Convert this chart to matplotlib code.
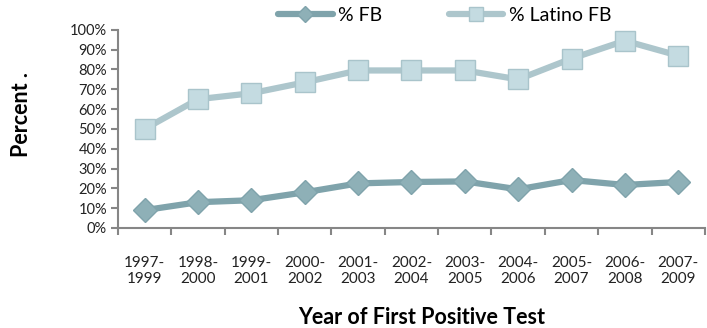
import matplotlib
matplotlib.use("Agg")
import matplotlib.pyplot as plt
from matplotlib.ticker import PercentFormatter, FixedLocator, NullFormatter

plt.rcParams['font.family'] = ['Lato', 'DejaVu Sans']

periods = ["1997-\n1999", "1998-\n2000", "1999-\n2001", "2000-\n2002", "2001-\n2003",
           "2002-\n2004", "2003-\n2005", "2004-\n2006", "2005-\n2007", "2006-\n2008",
           "2007-\n2009"]
pct_fb = [9, 13, 14, 18, 22.5, 23.2, 23.5, 19.5, 24.2, 21.7, 23.2]
pct_latino_fb = [50, 65, 68, 73.5, 79.5, 79.5, 79.5, 75, 85.5, 94.5, 87]
yticks = list(range(0, 101, 10))

fig = plt.figure(figsize=(7.07, 3.28), dpi=100)
ax = fig.add_axes([0.167, 0.305, 0.83, 0.604])

x = list(range(len(periods)))
l1, = ax.plot(x, pct_fb, color="#7fa3ab", lw=4.5, marker="D", ms=12,
              mfc="#8eb0b7", mec="#7fa3ab", mew=1, label="% FB", solid_capstyle="round")
l2, = ax.plot(x, pct_latino_fb, color="#adc6cc", lw=4.5, marker="s", ms=14,
              mfc="#c4dbe1", mec="#a9c4cb", mew=1, label="% Latino FB", solid_capstyle="round")

ax.set_xlim(-0.5, len(periods) - 0.5)
ax.set_ylim(0, 100)
ax.set_yticks(yticks)
ax.yaxis.set_major_formatter(PercentFormatter(decimals=0))
ax.set_xticks(x)
ax.set_xticklabels(periods, fontsize=11, color="#222222", linespacing=1.2)
ax.tick_params(axis="x", which="major", length=0, pad=20)
ax.xaxis.set_minor_locator(FixedLocator([i - 0.5 for i in range(len(periods) + 1)]))
ax.xaxis.set_minor_formatter(NullFormatter())
ax.tick_params(axis="x", which="minor", length=5, width=1.5, color="#868686", direction="out")
ax.tick_params(axis="y", length=5, width=1.5, color="#868686", labelsize=10.5,
               labelcolor="#222222", pad=3)

for s in ["top", "right"]:
    ax.spines[s].set_visible(False)
for s in ["left", "bottom"]:
    ax.spines[s].set_color("#868686")
    ax.spines[s].set_linewidth(1.5)

fig.text(0.03, 0.652, "Percent .", rotation=90, fontsize=15.5, fontweight="bold",
         ha="center", va="center")
fig.text(0.596, 0.032, "Year of First Positive Test", fontsize=15.5, fontweight="bold",
         ha="center", va="center")

fig.legend(handles=[l1, l2], loc="center", bbox_to_anchor=(0.629, 0.954), ncol=2,
           frameon=False, fontsize=14, handlelength=2.8, columnspacing=3.4,
           handletextpad=0.3, markerscale=0.7)

fig.savefig("out.png", dpi=100)
